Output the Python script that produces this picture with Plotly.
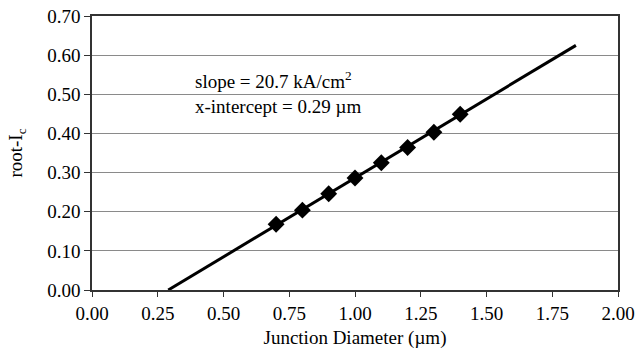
import plotly.graph_objects as go

# Data
diam = [0.7, 0.8, 0.9, 1.0, 1.1, 1.2, 1.3, 1.4]
root_ic = [0.168, 0.204, 0.246, 0.286, 0.325, 0.364, 0.403, 0.449]
fit_x = [0.29, 1.84]
fit_y = [0.0, 0.625]
x_ticks = [0.0, 0.25, 0.5, 0.75, 1.0, 1.25, 1.5, 1.75, 2.0]
x_ticklabels = ["0.00", "0.25", "0.50", "0.75", "1.00", "1.25", "1.50", "1.75", "2.00"]
y_ticks = [0.0, 0.1, 0.2, 0.3, 0.4, 0.5, 0.6, 0.7]
y_ticklabels = ["0.00", "0.10", "0.20", "0.30", "0.40", "0.50", "0.60", "0.70"]

FONT = "Liberation Serif"
FS = 19

fig = go.Figure()
fig.add_trace(go.Scatter(x=fit_x, y=fit_y, mode="lines",
                         line=dict(color="black", width=3), showlegend=False))
fig.add_trace(go.Scatter(x=diam, y=root_ic, mode="markers",
                         marker=dict(symbol="diamond", color="black", size=13),
                         showlegend=False))

fig.add_annotation(x=0.385, y=0.537, xref="x", yref="y", xanchor="left",
                   text="slope = 20.7 kA/cm<sup>2</sup>", showarrow=False,
                   font=dict(family=FONT, size=FS, color="black"))
fig.add_annotation(x=0.385, y=0.468, xref="x", yref="y", xanchor="left",
                   text="x-intercept = 0.29 µm", showarrow=False,
                   font=dict(family=FONT, size=FS, color="black"))

fig.update_layout(
    width=638, height=356, autosize=False,
    margin=dict(l=92, r=20, t=16, b=66, autoexpand=False),
    paper_bgcolor="white", plot_bgcolor="white",
    font=dict(family=FONT, size=FS, color="black"),
    xaxis=dict(range=[0, 2], tickvals=x_ticks, ticktext=x_ticklabels,
               showgrid=False, zeroline=False, automargin=False,
               showline=True, linecolor="#333", linewidth=1.5, mirror=True,
               ticks="outside", ticklen=5, tickcolor="#333",
               title=dict(text="Junction Diameter (µm)", standoff=8,
                          font=dict(family=FONT, size=FS))),
    yaxis=dict(range=[0, 0.7], tickvals=y_ticks, ticktext=y_ticklabels,
               showgrid=True, gridcolor="#8a8a8a", gridwidth=1.2,
               zeroline=False, automargin=False,
               showline=True, linecolor="#333", linewidth=1.5, mirror=True,
               ticks="outside", ticklen=6, tickcolor="#333",
               title=dict(text="root-I<sub>c</sub>", standoff=20,
                          font=dict(family=FONT, size=FS))),
)

fig.write_html(
    "out.html",
    config={"displayModeBar": False},
    post_script="document.body.style.margin='0';"
                "document.documentElement.style.overflow='hidden';"
                "document.body.style.overflow='hidden';",
)
